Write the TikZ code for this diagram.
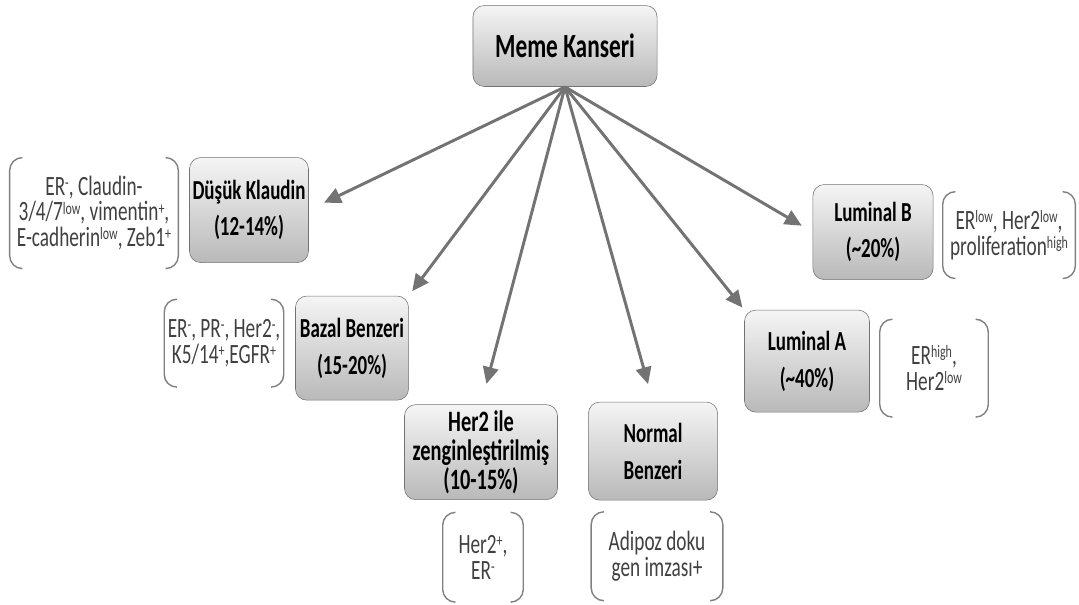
\documentclass[tikz,border=0pt]{standalone}
\usepackage{fontspec}
\setmainfont{Carlito}
\usetikzlibrary{arrows.meta,calc}

% small raised marks for the marker lists
\newcommand{\mrk}[1]{\raisebox{3.4pt}{\fontsize{8.5}{8.5}\selectfont #1}}

\tikzset{
  box/.style={draw=black!55, rounded corners=8pt, top color=gray!8, bottom color=gray!55,
    align=center, inner sep=1pt, font=\fontsize{13.5}{18}\bfseries\selectfont},
  note/.style={align=center, text=black!75, inner sep=0pt, font=\fontsize{13.7}{12.7}\selectfont},
  arr/.style={-{Triangle[length=12pt,width=11pt]}, line width=2.1pt, draw=black!55},
  brk/.style={draw=black!50, line width=1pt, rounded corners=9pt}
}

\begin{document}
\begin{tikzpicture}[x=0.025cm, y=-0.017241cm, yscale=1.45, transform shape]
  \useasboundingbox (0,0) rectangle (1079,604);

  % Top node
  \node[box, minimum width=130.9pt, minimum height=39.7pt, font=\fontsize{16.6}{20}\bfseries\selectfont] (mk) at (565,46) {Meme Kanseri};

  % Subtypes
  \node[box, minimum width=84.6pt, minimum height=51.5pt] (dk) at (249,210) {Düşük Klaudin\\(12-14\%)};
  \node[box, minimum width=80.4pt, minimum height=51pt] (bz) at (352,348) {Bazal Benzeri\\(15-20\%)};
  \node[box, minimum width=108.8pt, minimum height=46.6pt, font=\fontsize{14.5}{14.2}\bfseries\selectfont] (h2) at (481,452) {Her2 ile\\zenginleştirilmiş\\(10-15\%)};
  \node[box, minimum width=91.8pt, minimum height=48.1pt] (nb) at (653,451) {Normal\\Benzeri};
  \node[box, minimum width=88.9pt, minimum height=50pt] (la) at (807,361) {Luminal A\\(\textasciitilde40\%)};
  \node[box, minimum width=85.4pt, minimum height=46.6pt] (lb) at (873,232) {Luminal B\\(\textasciitilde20\%)};

  % Markers in brackets
  \node[note, minimum width=119.5pt, minimum height=54pt] (dkN) at (94,213) {ER\mrk{-}, Claudin-\\3/4/7\mrk{low}, vimentin\mrk{+},\\E-cadherin\mrk{low}, Zeb1\mrk{+}};
  \node[note, minimum width=84.6pt, minimum height=42.7pt] (bzN) at (224,343) {ER\mrk{-}, PR\mrk{-}, Her2\mrk{-},\\K5/14\mrk{+},EGFR\mrk{+}};
  \node[note, minimum width=56.9pt, minimum height=43.6pt] (h2N) at (483,557) {Her2\mrk{+},\\ER\mrk{-}};
  \node[note, minimum width=93.2pt, minimum height=43.2pt] (nbN) at (657,556) {Adipoz doku\\gen imzası+};
  \node[note, minimum width=76.8pt, minimum height=47.6pt] (laN) at (934,368) {ER\mrk{high},\\Her2\mrk{low}};
  \node[note, minimum width=93.9pt, minimum height=42.2pt] (lbN) at (1009,235) {ER\mrk{low}, Her2\mrk{low},\\proliferation\mrk{high}};

  \foreach \n in {dkN,bzN,h2N,nbN,laN,lbN}{
    \draw[brk] ($(\n.north west)+(12,0)$) -- (\n.north west) -- (\n.south west) -- ($(\n.south west)+(12,0)$);
    \draw[brk] ($(\n.north east)+(-12,0)$) -- (\n.north east) -- (\n.south east) -- ($(\n.south east)+(-12,0)$);
  }

  % Arrows from the top node
  \draw[arr, shorten >=12pt] (mk.south) -- (dk.east);
  \draw[arr, shorten >=4pt] (mk.south) -- (bz.north east);
  \draw[arr, shorten >=15pt] (mk.south) -- (h2.north);
  \draw[arr, shorten >=13pt] (mk.south) -- (nb.north);
  \draw[arr, shorten >=2pt] (mk.south) -- (la.north west);
  \draw[arr, shorten >=9pt] (mk.south) -- (lb.west);
\end{tikzpicture}
\end{document}
